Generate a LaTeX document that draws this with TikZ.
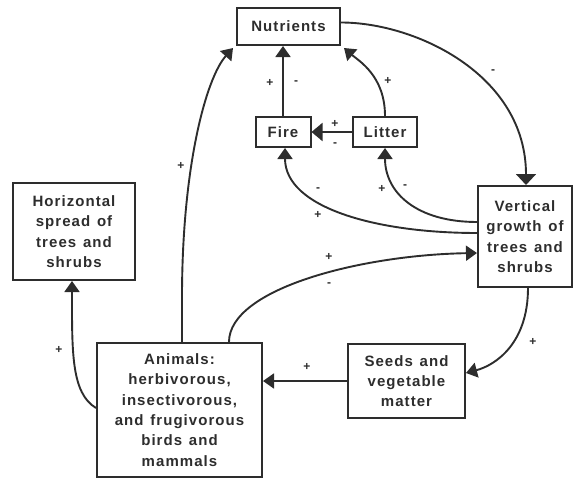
\documentclass[tikz,border=0pt]{standalone}
\usepackage{fontspec}
\setmainfont{Liberation Sans}[LetterSpace=7,WordSpace=1.3]
\usetikzlibrary{arrows.meta,calc}
\definecolor{ink}{RGB}{45,45,45}
\begin{document}
\begin{tikzpicture}[x=1pt,y=-1pt,
  box/.style={draw=ink, line width=2pt, inner sep=0pt, align=center, text=ink,
    font=\bfseries\fontsize{15}{20.3}\selectfont},
  conn/.style={draw=ink, line width=1.9pt, -{Triangle[length=11pt,width=15pt]}},
  sign/.style={font=\bfseries\fontsize{12}{12}\selectfont, inner sep=0pt, text=ink}]
\useasboundingbox (0,0) rectangle (574,479);
% boxes
\node[box, minimum width=103pt, minimum height=37pt] (nut) at (288.5,26.5) {Nutrients};
\node[box, minimum width=55pt, minimum height=30pt] (fire) at (283,132) {Fire};
\node[box, minimum width=64pt, minimum height=30pt] (litter) at (385,132) {Litter};
\node[box, minimum width=94pt, minimum height=101pt] (vert) at (525,236.5) {Vertical\\growth of\\trees and\\shrubs};
\node[box, minimum width=122pt, minimum height=97pt] (horiz) at (74,231.5) {Horizontal\\spread of\\trees and\\shrubs};
\node[box, minimum width=165pt, minimum height=134pt] (anim) at (179.5,410) {Animals:\\herbivorous,\\insectivorous,\\and frugivorous\\birds and\\mammals};
\node[box, minimum width=117pt, minimum height=74pt] (seeds) at (406.5,381) {Seeds and\\vegetable\\matter};
% connectors
\draw[conn] ($(anim.north)+(2.5,0)$) -- ++(0,-45) .. controls ++(0,-130) and ($(nut.south west)+(-30,32)$) .. ($(nut.south west)+(-3,2)$);
\draw[conn] ($(anim.west)+(0,-2)$) .. controls ++(-25,-15) and ($(horiz.south)+(-2,70)$) .. ($(horiz.south)+(-2,0)$);
\draw[conn] ($(anim.north)+(49.5,0)$) .. controls ++(0,-53) and ($(vert.west)+(-117,18.5)$) .. ($(vert.west)+(0,16.5)$);
\draw[conn] ($(vert.south)+(3,0)$) .. controls ++(0,55) and ($(seeds.east)+(30,-16)$) .. ($(seeds.east)+(0,-8)$);
\draw[conn] (seeds.west) -- (seeds.west -| anim.east);
\draw[conn, -{Triangle[length=11pt,width=20pt]}] ($(nut.east)+(0,-4)$) .. controls ++(75,0) and ($(vert.north)+(1,-110)$) .. ($(vert.north)+(1,0)$);
\draw[conn] (fire.north) -- (fire.north |- nut.south);
\draw[conn] (litter.north) .. controls ++(0,-40) and ($(nut.south east)+(18,15)$) .. ($(nut.south east)+(3,2)$);
\draw[conn, -{Triangle[length=11pt,width=18pt]}] (litter.west) -- (fire.east);
\draw[conn] ($(vert.west)+(0,-3.5)$) .. controls ++(-100,0) and ($(fire.south)+(2,60)$) .. ($(fire.south)+(2,0)$);
\draw[conn] ($(vert.west)+(0,-14.5)$) .. controls ++(-60,0) and ($(litter.south)+(0,45)$) .. (litter.south);
% signs
\node[sign] (s1) at (181,166) {+};
\node[sign] (s2) at (59,350) {+};
\node[sign] (s3) at (329,257) {+};
\node[sign] (s4) at (329,285) {-};
\node[sign] (s5) at (533,342) {+};
\node[sign] (s6) at (307,367) {+};
\node[sign] (s7) at (493,72) {-};
\node[sign] (s8) at (270,83) {+};
\node[sign] (s9) at (296,83) {-};
\node[sign] (s10) at (388,81) {+};
\node[sign] (s11) at (335,124) {+};
\node[sign] (s12) at (335,145) {-};
\node[sign] (s13) at (318,190) {-};
\node[sign] (s14) at (318,215) {+};
\node[sign] (s15) at (382,189) {+};
\node[sign] (s16) at (405,187) {-};
\end{tikzpicture}
\end{document}
